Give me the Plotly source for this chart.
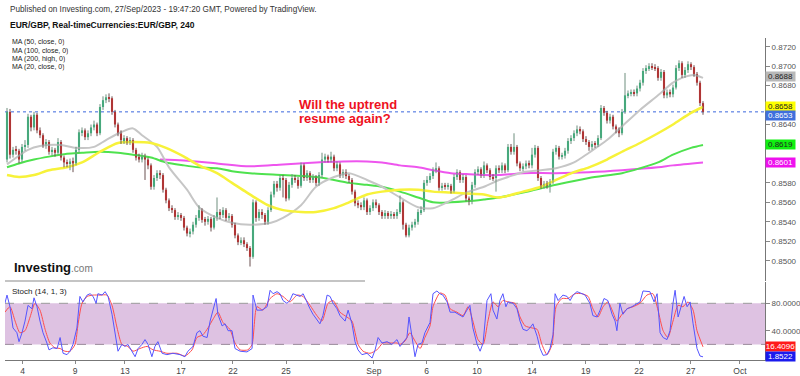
import plotly.graph_objects as go

# ---------------- data (4h candles, EUR/GBP) ----------------
first_open = 0.8604
close = [
0.8653,0.8609,0.8614,0.8613,0.8604,0.8617,0.8619,0.8648,0.8637,0.8650,
0.8634,0.8629,0.8619,0.8622,0.8612,0.8614,0.8611,0.8622,0.8606,0.8601,
0.8600,0.8602,0.8600,0.8614,0.8632,0.8634,0.8627,0.8631,0.8637,0.8640,
0.8631,0.8658,0.8665,0.8668,0.8667,0.8653,0.8640,0.8631,0.8624,0.8626,
0.8622,0.8624,0.8614,0.8606,0.8604,0.8607,0.8604,0.8598,0.8576,0.8585,
0.8590,0.8588,0.8573,0.8562,0.8554,0.8552,0.8545,0.8547,0.8544,0.8534,
0.8528,0.8530,0.8537,0.8544,0.8552,0.8542,0.8540,0.8543,0.8534,0.8544,
0.8550,0.8547,0.8552,0.8544,0.8546,0.8537,0.8526,0.8519,0.8521,0.8517,
0.8513,0.8504,0.8560,0.8544,0.8550,0.8547,0.8540,0.8552,0.8568,0.8579,
0.8575,0.8585,0.8583,0.8564,0.8578,0.8585,0.8583,0.8577,0.8598,0.8585,
0.8590,0.8583,0.8586,0.8580,0.8588,0.8604,0.8607,0.8604,0.8607,0.8595,
0.8599,0.8588,0.8591,0.8587,0.8583,0.8571,0.8559,0.8557,0.8555,0.8562,
0.8550,0.8554,0.8560,0.8557,0.8550,0.8546,0.8549,0.8546,0.8548,0.8546,
0.8550,0.8560,0.8537,0.8526,0.8534,0.8537,0.8540,0.8550,0.8552,0.8580,
0.8583,0.8587,0.8593,0.8595,0.8575,0.8577,0.8576,0.8577,0.8572,0.8586,
0.8591,0.8583,0.8586,0.8564,0.8561,0.8578,0.8591,0.8594,0.8588,0.8598,
0.8593,0.8586,0.8585,0.8595,0.8593,0.8598,0.8593,0.8617,0.8612,0.8617,
0.8600,0.8595,0.8597,0.8600,0.8598,0.8609,0.8616,0.8585,0.8577,0.8579,
0.8577,0.8581,0.8612,0.8616,0.8607,0.8608,0.8613,0.8623,0.8626,0.8631,
0.8635,0.8633,0.8625,0.8622,0.8617,0.8620,0.8619,0.8626,0.8657,0.8652,
0.8644,0.8648,0.8638,0.8635,0.8631,0.8653,0.8670,0.8672,0.8673,0.8672,
0.8677,0.8683,0.8695,0.8698,0.8700,0.8699,0.8698,0.8688,0.8694,0.8670,
0.8673,0.8671,0.8678,0.8698,0.8703,0.8691,0.8696,0.8702,0.8699,0.8692,
0.8683,0.8662,0.8653]
high = [
0.8657,0.8656,0.8617,0.8618,0.8615,0.8620,0.8624,0.8651,0.8650,0.8653,
0.8652,0.8637,0.8631,0.8625,0.8624,0.8617,0.8616,0.8626,0.8624,0.8608,
0.8604,0.8605,0.8606,0.8617,0.8635,0.8637,0.8636,0.8634,0.8640,0.8644,
0.8642,0.8661,0.8669,0.8671,0.8672,0.8669,0.8655,0.8642,0.8634,0.8629,
0.8628,0.8627,0.8626,0.8616,0.8610,0.8611,0.8610,0.8606,0.8600,0.8588,
0.8593,0.8593,0.8590,0.8575,0.8564,0.8557,0.8554,0.8550,0.8549,0.8546,
0.8536,0.8533,0.8540,0.8547,0.8557,0.8554,0.8545,0.8546,0.8545,0.8547,
0.8565,0.8553,0.8555,0.8554,0.8549,0.8548,0.8539,0.8528,0.8524,0.8524,
0.8519,0.8515,0.8563,0.8562,0.8553,0.8553,0.8549,0.8555,0.8571,0.8582,
0.8582,0.8588,0.8588,0.8585,0.8581,0.8589,0.8588,0.8586,0.8601,0.8600,
0.8593,0.8592,0.8589,0.8588,0.8591,0.8611,0.8610,0.8609,0.8612,0.8609,
0.8602,0.8601,0.8594,0.8594,0.8589,0.8585,0.8573,0.8562,0.8560,0.8565,
0.8564,0.8557,0.8563,0.8563,0.8559,0.8552,0.8552,0.8551,0.8551,0.8550,
0.8553,0.8567,0.8562,0.8539,0.8537,0.8540,0.8543,0.8553,0.8556,0.8583,
0.8587,0.8590,0.8596,0.8601,0.8597,0.8580,0.8580,0.8580,0.8579,0.8589,
0.8594,0.8593,0.8589,0.8588,0.8566,0.8581,0.8594,0.8597,0.8596,0.8602,
0.8600,0.8595,0.8589,0.8598,0.8598,0.8601,0.8600,0.8620,0.8620,0.8631,
0.8619,0.8602,0.8600,0.8603,0.8603,0.8616,0.8619,0.8618,0.8587,0.8582,
0.8582,0.8584,0.8615,0.8619,0.8618,0.8611,0.8616,0.8626,0.8629,0.8634,
0.8639,0.8638,0.8635,0.8628,0.8624,0.8623,0.8623,0.8629,0.8660,0.8659,
0.8654,0.8651,0.8650,0.8640,0.8637,0.8656,0.8693,0.8675,0.8676,0.8676,
0.8680,0.8686,0.8698,0.8701,0.8703,0.8703,0.8702,0.8700,0.8697,0.8696,
0.8676,0.8676,0.8681,0.8701,0.8706,0.8705,0.8699,0.8705,0.8704,0.8701,
0.8694,0.8685,0.8664]
low = [
0.8601,0.8605,0.8606,0.8609,0.8600,0.8601,0.8613,0.8616,0.8633,0.8634,
0.8631,0.8626,0.8616,0.8615,0.8609,0.8608,0.8607,0.8609,0.8603,0.8596,
0.8596,0.8593,0.8591,0.8598,0.8611,0.8628,0.8624,0.8624,0.8628,0.8634,
0.8628,0.8629,0.8655,0.8662,0.8663,0.8650,0.8637,0.8628,0.8620,0.8620,
0.8619,0.8619,0.8611,0.8603,0.8601,0.8601,0.8583,0.8594,0.8573,0.8573,
0.8582,0.8584,0.8570,0.8559,0.8551,0.8549,0.8542,0.8542,0.8541,0.8531,
0.8525,0.8524,0.8527,0.8534,0.8541,0.8539,0.8536,0.8537,0.8530,0.8532,
0.8541,0.8543,0.8544,0.8541,0.8541,0.8534,0.8523,0.8516,0.8516,0.8514,
0.8510,0.8494,0.8502,0.8540,0.8541,0.8543,0.8537,0.8537,0.8550,0.8565,
0.8571,0.8572,0.8565,0.8561,0.8562,0.8575,0.8580,0.8574,0.8575,0.8582,
0.8582,0.8580,0.8580,0.8577,0.8577,0.8585,0.8601,0.8601,0.8601,0.8592,
0.8592,0.8585,0.8585,0.8584,0.8580,0.8568,0.8556,0.8554,0.8552,0.8552,
0.8547,0.8547,0.8551,0.8554,0.8547,0.8543,0.8543,0.8543,0.8543,0.8543,
0.8543,0.8548,0.8532,0.8524,0.8524,0.8531,0.8534,0.8537,0.8547,0.8550,
0.8577,0.8580,0.8584,0.8590,0.8572,0.8572,0.8573,0.8573,0.8569,0.8570,
0.8583,0.8580,0.8580,0.8561,0.8557,0.8558,0.8575,0.8588,0.8585,0.8585,
0.8590,0.8583,0.8582,0.8571,0.8590,0.8590,0.8590,0.8591,0.8609,0.8609,
0.8597,0.8592,0.8592,0.8594,0.8595,0.8595,0.8606,0.8582,0.8574,0.8574,
0.8574,0.8570,0.8579,0.8609,0.8604,0.8604,0.8605,0.8610,0.8620,0.8623,
0.8628,0.8630,0.8622,0.8619,0.8613,0.8614,0.8616,0.8617,0.8624,0.8649,
0.8641,0.8641,0.8635,0.8631,0.8627,0.8629,0.8651,0.8667,0.8669,0.8669,
0.8669,0.8674,0.8680,0.8692,0.8695,0.8696,0.8695,0.8685,0.8685,0.8667,
0.8667,0.8668,0.8668,0.8676,0.8695,0.8688,0.8688,0.8693,0.8696,0.8689,
0.8680,0.8659,0.8650]

# moving averages (bar index, value)
ma20_idx = [0,7,11,18,23,29,33,38,42,45,50,54,60,64,70,75,81,88,92,98,103,109,114,120,125,131,137,142,148,153,159,164,167,172,178,183,189,194,200,205,211,217,222,225,229,232]
ma20_val = [0.8599,0.8614,0.8618,0.8619,0.8616,0.8617,0.8624,0.8632,0.8636,0.8629,
            0.8617,0.8596,0.8573,0.8555,0.8544,0.8539,0.8537,0.8539,0.8544,0.8557,
            0.8576,0.8586,0.8590,0.8583,0.8576,0.8565,0.8555,0.8554,0.8562,0.8570,
            0.8576,0.8583,0.8586,0.8591,0.8593,0.8595,0.8601,0.8611,0.8624,0.8638,
            0.8655,0.8670,0.8683,0.8688,0.8691,0.8688]
ma50_idx = [0,4,9,14,20,25,31,37,42,48,53,59,64,70,75,80,87,92,98,103,109,114,120,125,131,137,142,148,153,159,164,172,178,183,189,194,200,205,211,217,222,228,232]
ma50_val = [0.8588,0.8586,0.8588,0.8593,0.8596,0.8601,0.8612,0.8621,0.8622,0.8621,
            0.8616,0.8607,0.8598,0.8590,0.8580,0.8570,0.8557,0.8552,0.8550,0.8550,
            0.8554,0.8560,0.8568,0.8571,0.8573,0.8573,0.8571,0.8570,0.8569,0.8568,
            0.8565,0.8571,0.8576,0.8583,0.8591,0.8596,0.8604,0.8612,0.8621,0.8631,
            0.8640,0.8652,0.8658]
ma100_idx = [0,4,9,14,20,25,31,37,42,48,53,59,64,70,75,81,92,103,109,114,120,125,131,137,142,148,153,159,164,172,183,194,205,211,217,222,228,232]
ma100_val = [0.8596,0.8600,0.8604,0.8607,0.8610,0.8611,0.8612,0.8611,0.8609,0.8606,
             0.8601,0.8598,0.8596,0.8595,0.8592,0.8590,0.8588,0.8586,0.8583,0.8580,
             0.8578,0.8576,0.8571,0.8565,0.8560,0.8560,0.8561,0.8563,0.8565,0.8570,
             0.8578,0.8585,0.8590,0.8595,0.8601,0.8609,0.8616,0.8619]
ma200_idx = [51,59,70,81,92,103,112,120,125,131,137,142,148,153,159,164,172,183,194,205,217,222,232]
ma200_val = [0.8604,0.8603,0.8600,0.8597,0.8599,0.8601,0.8602,0.8602,0.8601,0.8598,
             0.8596,0.8593,0.8590,0.8589,0.8588,0.8588,0.8590,0.8590,0.8591,0.8593,
             0.8596,0.8598,0.8601]

# stochastic (14,1,3): %K and %D (bar index, value)
k_idx = [-0.7,0,1,2,3.3,4,5,6,7,8.3,
         9,10,11,12,13.3,14,15.3,16.7,17.7,18.7,
         20,21,22,23.3,24.3,25.3,26.7,27.7,28.7,29.7,
         30.3,31.7,32.7,33.7,35,36,37,38.3,39.3,40.3,
         41.7,42.7,43.7,45,46,47,48.3,49.3,50.3,51.7,
         53.3,55.3,57.7,59.3,60.3,62,63.3,64.3,65.3,66.7,
         67.7,68.7,69.7,70.3,71.7,72.7,73.7,75,76,77.7,
         80,81.7,82,83.3,85,86.7,87.7,88.7,90,91,
         92,93.3,94.3,95.3,96.7,97.7,98.7,100,101,102,
         103.3,104.3,105.3,106.7,107.7,108.7,110,111,112.7,113.7,
         115,116,117,118.3,120,121.7,122.7,123.7,125,126.7,
         128.3,130,131,132,133.3,134,135,136,137,138.3,
         139.3,141,142,143.3,144.3,145.3,146.7,147.7,149.3,151,
         152,153.3,154.3,155.3,156.7,157.7,158.7,160,161.3,162,
         163.3,164.3,165.3,166.3,167,168.7,170,171,172,173.3,
         174.3,175.3,176.7,177.7,178.7,180,181,182,182.7,183.7,
         185.3,186.7,187.7,188.7,190,191.7,192.7,194.3,195.3,196.7,
         197.7,199,200.3,201.7,202.7,203.3,204.3,205.3,206.7,208.3,
         210,211,212,213.3,214.3,215.7,216.7,217.7,218.7,220,
         221,222,222.7,223.7,224.7,225.7,226.7,227.7,228.7,230,
         231,232]
k_val = [80,92,75,44,37,24,37,54,77,72,
         88,75,54,37,22,12,15,14,30,7,
         5,10,20,44,90,82,92,94,90,80,
         94,92,97,90,64,40,10,20,17,20,
         10,2,14,20,27,20,2,17,24,7,
         5,7,5,2,10,17,37,40,32,30,
         54,70,87,64,47,50,40,40,14,10,
         9,14,92,70,70,75,99,94,97,94,
         84,80,84,94,92,90,94,80,72,64,
         57,50,62,92,90,80,72,62,54,70,
         50,24,12,5,7,0,12,30,22,24,
         20,27,17,22,30,60,27,2,20,22,
         37,52,94,98,94,92,82,67,67,62,
         60,70,77,44,20,10,22,84,94,70,
         57,84,94,75,82,80,72,54,42,40,
         44,50,32,14,4,5,14,34,94,84,
         92,90,84,92,97,94,92,80,62,60,
         70,87,84,64,54,40,80,64,72,75,
         80,82,98,97,97,82,94,37,30,27,
         40,80,99,60,75,90,75,82,50,14,
         3,1.8522]
d_idx = [-0.7,1,2.7,4.3,6,7.7,9.3,11,12.7,14.3,
         16,17.7,19.3,21,22.7,23.7,25,26.7,28.7,31,
         33.3,35,36.7,38.3,40.3,42,44.3,46.7,48.7,51,
         53.3,56.7,59.3,61.7,63.3,65.3,67,68.7,70.3,72,
         74.3,76,77.7,80.3,81.7,83.3,85.3,87.7,90,92,
         94.3,96.7,98.7,101,103.3,105,107,108.7,111,113.3,
         115,117,118.7,121,123.3,125.3,127.7,130,131,132.7,
         134.3,136,137.7,139.3,141,142,144.3,146,147.7,150,
         152,153.7,155.3,157,158.7,160.3,162,163.7,165.3,167,
         169.3,171,172.7,175,176.7,178.3,180,181.7,183,185,
         187,189.3,191.7,193.7,195.3,197,198.7,200.3,202,203.3,
         205,206.7,208.7,211,213.3,215.3,217,218.7,220.3,222,
         223.7,225.3,227,228.7,230,232]
d_val = [67,75,54,37,40,60,80,70,42,22,
         15,14,10,10,20,50,80,90,92,92,
         92,77,44,20,17,10,14,17,12,10,
         7,7,3,12,30,34,44,57,67,52,
         42,22,12,12,20,75,70,87,94,90,
         82,92,90,77,62,54,80,84,67,60,
         54,20,10,7,12,22,22,22,20,25,
         37,25,14,30,47,75,95,92,72,67,
         62,75,54,27,20,54,82,75,84,82,
         80,60,47,44,42,20,5,20,75,87,
         87,94,94,90,72,60,75,82,67,54,
         64,72,75,80,92,94,70,40,30,54,
         77,75,82,70,40,16.4096]

# axis labels
x_tick_pos = [5.2, 22.7, 39.3, 58, 75.3, 93, 122.3, 139.9, 156.7, 175, 192.9, 210.7, 227.9, 244.3]
x_tick_text = ["4", "9", "13", "17", "22", "25", "Sep", "6", "10", "14", "19", "22", "27", "Oct"]
price_ticks = [0.8500, 0.8520, 0.8540, 0.8560, 0.8580, 0.8640, 0.8680, 0.8700, 0.8720]
stoch_ticks = [40, 80]
last_price = 0.8653
ma_legend = ["MA (50, close, 0)", "MA (100, close, 0)", "MA (200, high, 0)", "MA (20, close, 0)"]

# ---------------- build ----------------
W, H = 800, 376
FONT = "Liberation Sans, Arial, sans-serif"
n = len(close)
idx = list(range(n))
opens = [first_open] + close[:-1]
is_up = [c >= o for o, c in zip(opens, close)]

UP, DN = "#21c27a", "#f41a1a"
wx_u, wy_u, wx_d, wy_d = [], [], [], []
for i, (h, l, u) in enumerate(zip(high, low, is_up)):
    if u:
        wx_u += [i, i, None]; wy_u += [l, h, None]
    else:
        wx_d += [i, i, None]; wy_d += [l, h, None]

fig = go.Figure()

for xs, ys, col, wd in [(ma200_idx, ma200_val, "#ee55ee", 2),
                        (ma100_idx, ma100_val, "#4ee24e", 2),
                        (ma20_idx, ma20_val, "#c6c6c6", 2),
                        (ma50_idx, ma50_val, "#f7f23a", 2.5)]:
    fig.add_trace(go.Scatter(x=xs, y=ys, mode="lines", xaxis="x", yaxis="y",
                             line=dict(color=col, width=wd, shape="spline", smoothing=0.8),
                             hoverinfo="skip", showlegend=False))

fig.add_trace(go.Scatter(x=wx_u, y=wy_u, mode="lines", xaxis="x", yaxis="y",
                         line=dict(color="#6f8f7f", width=1), hoverinfo="skip", showlegend=False))
fig.add_trace(go.Scatter(x=wx_d, y=wy_d, mode="lines", xaxis="x", yaxis="y",
                         line=dict(color="#6a5050", width=1), hoverinfo="skip", showlegend=False))
fig.add_trace(go.Bar(x=idx, base=opens, y=[c - o for o, c in zip(opens, close)],
                     width=0.7, xaxis="x", yaxis="y",
                     marker=dict(color=[UP if u else DN for u in is_up], line=dict(width=0)),
                     hoverinfo="skip", showlegend=False))

fig.add_trace(go.Scatter(x=d_idx, y=d_val, mode="lines", xaxis="x2", yaxis="y2",
                         line=dict(color="#ff4d4d", width=1, shape="spline", smoothing=0.6),
                         hoverinfo="skip", showlegend=False))
fig.add_trace(go.Scatter(x=k_idx, y=k_val, mode="lines", xaxis="x2", yaxis="y2",
                         line=dict(color="#5555ff", width=1),
                         hoverinfo="skip", showlegend=False))

xl, xr = 5, 765
xdom = [xl / W, xr / W]
xrange = [-0.667, 252.667]
py_top, py_bot = 38, 281
sy_top, sy_bot = 282, 360
ydom = [1 - py_bot / H, 1 - py_top / H]
y2dom = [1 - sy_bot / H, 1 - sy_top / H]

tickfont = dict(family=FONT, size=8, color="#555555")
fig.update_layout(
    width=W, height=H, margin=dict(l=0, r=0, t=0, b=0),
    paper_bgcolor="white", plot_bgcolor="white", template="none",
    barmode="overlay", showlegend=False, hovermode=False,
    xaxis=dict(domain=xdom, range=xrange, anchor="y", showticklabels=False, showgrid=False,
               zeroline=False, showline=False, ticks="", automargin=False),
    yaxis=dict(domain=ydom, range=[0.847912, 0.872894], side="right", anchor="x",
               tickvals=price_ticks, tickformat=".4f", ticks="outside", ticklen=4,
               tickcolor="#888888", showline=True, linecolor="#777777", linewidth=1,
               showgrid=False, zeroline=False, tickfont=tickfont, automargin=False),
    xaxis2=dict(domain=xdom, range=xrange, anchor="y2", tickvals=x_tick_pos, ticktext=x_tick_text,
                ticks="outside", ticklen=3, tickcolor="#888888", showline=True,
                linecolor="#777777", linewidth=1, showgrid=False, zeroline=False,
                tickfont=dict(family=FONT, size=8.5, color="#444444"), automargin=False),
    yaxis2=dict(domain=y2dom, range=[-2.8, 111.1], side="right", anchor="x2",
                tickvals=stoch_ticks, tickformat=".4f", ticks="outside", ticklen=4,
                tickcolor="#888888", showline=True, linecolor="#777777", linewidth=1,
                showgrid=False, zeroline=False, tickfont=tickfont, automargin=False),
)

shapes = [
    dict(type="rect", xref="paper", yref="y2", x0=xdom[0], x1=xdom[1], y0=20, y1=80,
         fillcolor="#dec2e2", line=dict(width=0), layer="below"),
    dict(type="line", xref="paper", yref="y2", x0=xdom[0], x1=xdom[1], y0=80, y1=80,
         line=dict(color="#9a9a9a", width=1, dash="dash"), layer="below"),
    dict(type="line", xref="paper", yref="y2", x0=xdom[0], x1=xdom[1], y0=20, y1=20,
         line=dict(color="#9a8a9a", width=1, dash="dash"), layer="below"),
    dict(type="line", xref="paper", yref="y", x0=xdom[0], x1=xdom[1], y0=last_price, y1=last_price,
         line=dict(color="#3a66dd", width=1, dash="dot"), layer="below"),
    dict(type="line", xref="paper", yref="paper", x0=xdom[0], x1=365 / W,
         y0=1 - 281 / H, y1=1 - 281 / H, line=dict(color="#b0b0b0", width=1.5)),
]
fig.update_layout(shapes=shapes)

ann = []
def txt(text, px, py, size, color="#222222", bold=False, h=None):
    a = dict(text=("<b>%s</b>" % text) if bold else text, xref="paper", yref="paper",
             x=px / W, y=1 - py / H, xanchor="left", yanchor="middle", showarrow=False,
             font=dict(family=FONT, size=size, color=color))
    if h:
        a["height"] = h
    ann.append(a)

txt("Published on Investing.com, 27/Sep/2023 - 19:47:20 GMT, Powered by TradingView.", 8, 10, 8.2, "#333333")
txt("EUR/GBP, Real-timeCurrencies:EUR/GBP, 240", 8, 25, 8.5, "#111111", bold=True)
for k, label in enumerate(ma_legend):
    txt(label, 10, 42.5 + 8.1 * k, 7, h=7.6)
txt("Will the uptrend", 297, 104, 13, "#ee1122", bold=True)
txt("resume again?", 297, 119, 13, "#ee1122", bold=True)
txt("Stoch (14, 1, 3)", 10, 291, 8)
ann.append(dict(text="<b>Investing</b><span style='font-size:10px;color:#777777'>.com</span>",
                xref="paper", yref="paper", x=12 / W, y=1 - 267 / H, xanchor="left",
                yanchor="middle", showarrow=False, font=dict(family=FONT, size=13, color="#111111")))

# value labels on the right axis (nudged apart where they would collide)
for val, bg, fg, yr, ys in [(ma20_val[-1], "#b8b8b8", "#222222", "y", 1),
                            (ma50_val[-1], "#ffff00", "#222222", "y", 1),
                            (last_price, "#3f6fdc", "#ffffff", "y", -4),
                            (ma100_val[-1], "#10f010", "#222222", "y", 0),
                            (ma200_val[-1], "#ee10ee", "#ffffff", "y", 0),
                            (d_val[-1], "#ff1a1a", "#ffffff", "y2", 0),
                            (k_val[-1], "#1a1aee", "#ffffff", "y2", 0)]:
    ann.append(dict(text="%.4f" % val, xref="paper", yref=yr, x=xr / W, y=val, xanchor="left",
                    yanchor="middle", yshift=ys, showarrow=False, bgcolor=bg, borderpad=0,
                    font=dict(family=FONT, size=8, color=fg), width=29, height=8.5,
                    align="center", valign="middle"))

fig.update_layout(annotations=ann)
fig.write_html("out.html", config={"displayModeBar": False},
               post_script="document.body.style.margin='0px';document.body.style.overflow='hidden';")
